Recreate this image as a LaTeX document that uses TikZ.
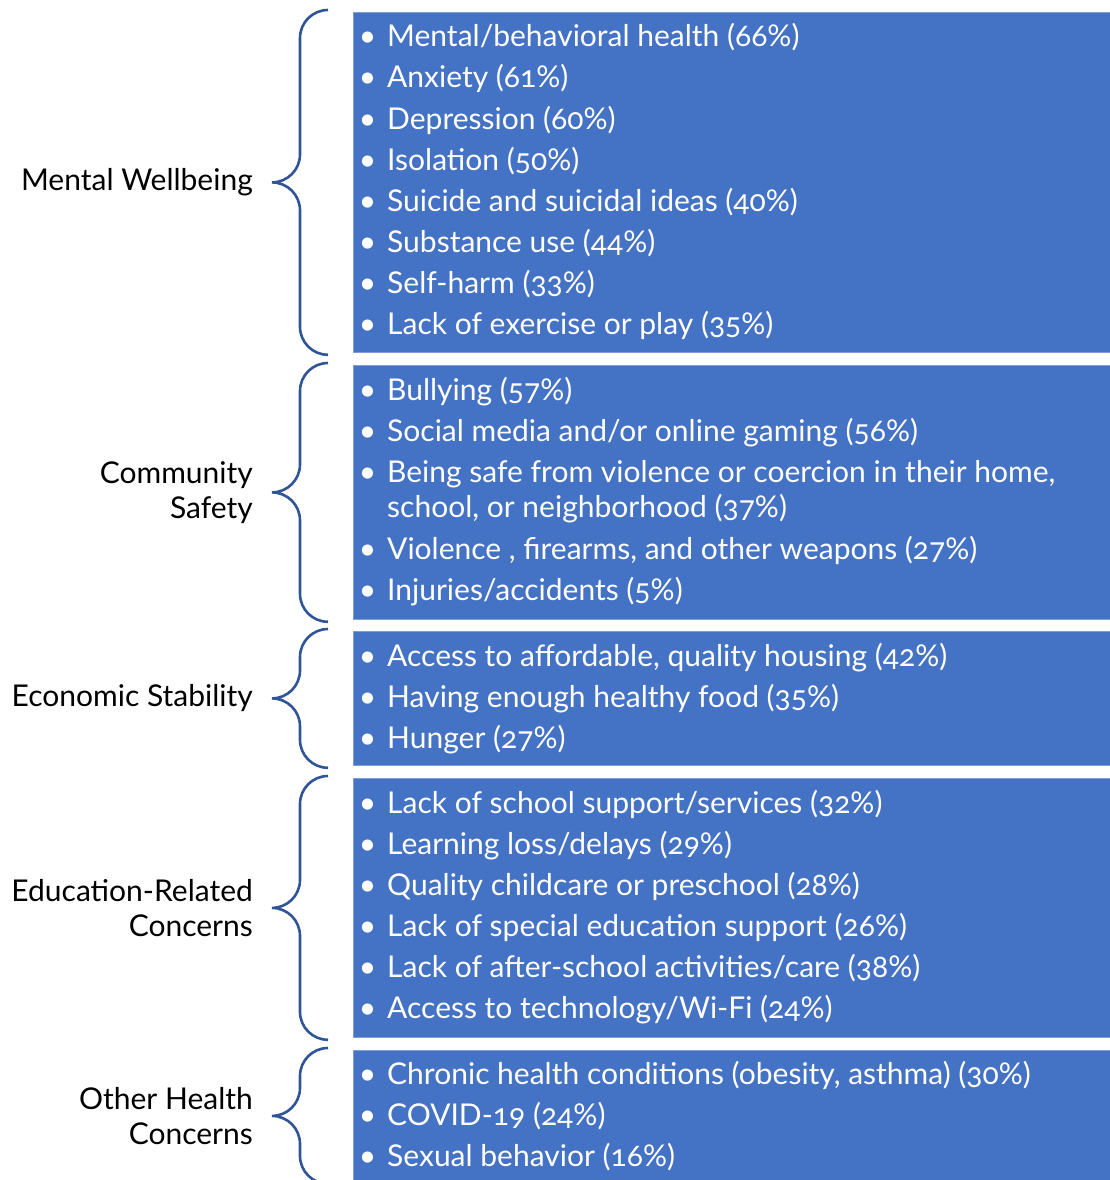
\documentclass[tikz,border=0pt]{standalone}
\usepackage{fontspec}
\setmainfont{Lato}[Numbers=OldStyle]
\definecolor{boxblue}{HTML}{4472C4}
\definecolor{boxedge}{HTML}{7E9DD6}
\definecolor{braceblue}{HTML}{2F5597}
\begin{document}
\begin{tikzpicture}[x=1pt,y=1pt,
	catbox/.style={draw=boxedge,line width=0.8pt,fill=boxblue,anchor=north west,inner sep=0,minimum width=757pt},
	item/.style={anchor=base west,inner sep=0,text=white,font=\fontsize{30}{35}\selectfont},
	bitem/.style={item,execute at begin node={\llap{\textbullet\hskip 11pt}}},
	cat/.style={anchor=east,inner sep=0,align=right,font=\fontsize{30}{35}\selectfont},
	catbrace/.style={draw=braceblue,line width=2.6pt}]
	\useasboundingbox (0,0) rectangle (1110,-1180);
	% category boxes
	\node[catbox,minimum height=340pt] (mw) at (353,-12) {};
	\node[catbox,minimum height=254pt] (cs) at (353,-365) {};
	\node[catbox,minimum height=134pt] (es) at (353,-631) {};
	\node[catbox,minimum height=259pt] (ed) at (353,-778) {};
	\node[catbox,minimum height=131pt] (oh) at (353,-1050) {};
	% braces
	\foreach \b in {mw,cs,es,ed,oh}
		\draw[catbrace] ([shift={(-25,2)}]\b.north west) arc[start angle=90,end angle=180,radius=28]
			-- ([shift={(-53,28)}]\b.west) arc[start angle=0,end angle=-90,radius=28] coordinate (\b-tip)
			arc[start angle=90,end angle=0,radius=28]
			-- ([shift={(-53,26)}]\b.south west) arc[start angle=180,end angle=270,radius=28];
	% category labels
	\node[cat] (mw-label) at ([xshift=-19pt]mw-tip) {Mental Wellbeing};
	\node[cat] (cs-label) at ([xshift=-19pt]cs-tip) {Community\\Safety};
	\node[cat] (es-label) at ([xshift=-19pt]es-tip) {Economic Stability};
	\node[cat] (ed-label) at ([xshift=-19pt]ed-tip) {Education-Related\\Concerns};
	\node[cat] (oh-label) at ([xshift=-19pt]oh-tip) {Other Health\\Concerns};
	% mental wellbeing
	\node[bitem] (mw-1) at (387,-47) {Mental/behavioral health (66\%)};
	\node[bitem] (mw-2) at (387,-88) {Anxiety (61\%)};
	\node[bitem] (mw-3) at (387,-129) {Depression (60\%)};
	\node[bitem] (mw-4) at (387,-170) {Isolation (50\%)};
	\node[bitem] (mw-5) at (387,-211) {Suicide and suicidal ideas (40\%)};
	\node[bitem] (mw-6) at (387,-252) {Substance use (44\%)};
	\node[bitem] (mw-7) at (387,-293) {Self-harm (33\%)};
	\node[bitem] (mw-8) at (387,-334) {Lack of exercise or play (35\%)};
	% community safety
	\node[bitem] (cs-1) at (387,-400) {Bullying (57\%)};
	\node[bitem] (cs-2) at (387,-441) {Social media and/or online gaming (56\%)};
	\node[bitem] (cs-3) at (387,-482) {Being safe from violence or coercion in their home,};
	\node[item] (cs-3b) at (387,-517) {school, or neighborhood (37\%)};
	\node[bitem] (cs-4) at (387,-559) {Violence , firearms, and other weapons (27\%)};
	\node[bitem] (cs-5) at (387,-600) {Injuries/accidents (5\%)};
	% economic stability
	\node[bitem] (es-1) at (387,-666) {Access to affordable, quality housing (42\%)};
	\node[bitem] (es-2) at (387,-707) {Having enough healthy food (35\%)};
	\node[bitem] (es-3) at (387,-748) {Hunger (27\%)};
	% education-related concerns
	\node[bitem] (ed-1) at (387,-813) {Lack of school support/services (32\%)};
	\node[bitem] (ed-2) at (387,-854) {Learning loss/delays (29\%)};
	\node[bitem] (ed-3) at (387,-895) {Quality childcare or preschool (28\%)};
	\node[bitem] (ed-4) at (387,-936) {Lack of special education support (26\%)};
	\node[bitem] (ed-5) at (387,-977) {Lack of after-school activities/care (38\%)};
	\node[bitem] (ed-6) at (387,-1018) {Access to technology/Wi-Fi (24\%)};
	% other health concerns
	\node[bitem] (oh-1) at (387,-1084) {Chronic health conditions (obesity, asthma) (30\%)};
	\node[bitem] (oh-2) at (387,-1125) {COVID-19 (24\%)};
	\node[bitem] (oh-3) at (387,-1166) {Sexual behavior (16\%)};
\end{tikzpicture}
\end{document}
